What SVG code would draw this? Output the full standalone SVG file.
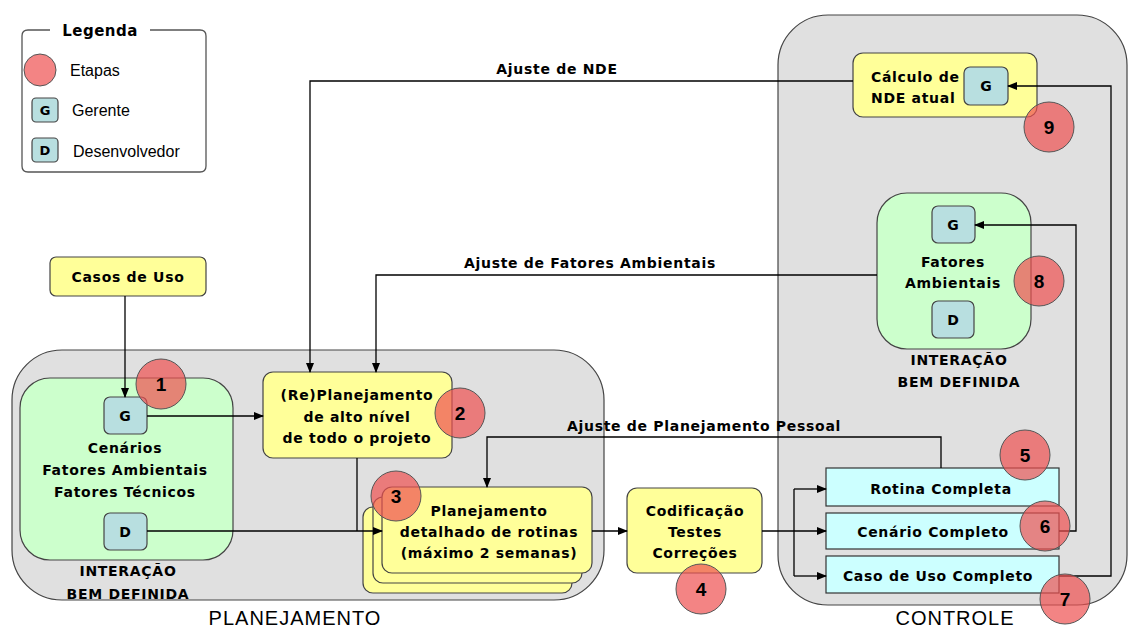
<svg xmlns="http://www.w3.org/2000/svg" width="1128" height="630" viewBox="0 0 1128 630">
<defs>
<marker id="ah" markerWidth="10" markerHeight="8" refX="9" refY="4" orient="auto" markerUnits="userSpaceOnUse">
<path d="M0,0 L10,4 L0,8 Z" fill="#000"/>
</marker>
<style>
.region{fill:#e0e0e0;stroke:#444;stroke-width:1.2}
.green{fill:#ccffcc;stroke:#444;stroke-width:1.2}
.yellow{fill:#ffff99;stroke:#444;stroke-width:1.2}
.cyan{fill:#ccffff;stroke:#333;stroke-width:1.2}
.role{fill:#b8dfe0;stroke:#444;stroke-width:1.2}
.step{fill:#ee5050;fill-opacity:0.7;stroke:#555;stroke-width:1}
.t{font-family:"DejaVu Sans",sans-serif;font-weight:bold;font-size:14px;letter-spacing:0.7px;fill:#000;text-anchor:middle}
.rl{font-family:"DejaVu Sans",sans-serif;font-weight:bold;font-size:14px;fill:#000;text-anchor:middle}
.n{font-family:"Liberation Sans",sans-serif;font-weight:bold;font-size:19px;fill:#000;text-anchor:middle}
.lg{font-family:"Liberation Sans",sans-serif;font-size:16px;fill:#000}
.big{font-family:"Liberation Sans",sans-serif;font-size:20px;letter-spacing:1px;fill:#000;text-anchor:middle}
.c{fill:none;stroke:#000;stroke-width:1.3}
</style>
</defs>
<rect width="1128" height="630" fill="#fff"/>

<g id="legend">
<path d="M50,30 L28,30 Q22,30 22,36 L22,166 Q22,172 28,172 L200,172 Q206,172 206,166 L206,36 Q206,30 200,30 L150,30" fill="none" stroke="#555" stroke-width="1.3"/>
<text x="100" y="36" class="t" style="font-size:15px;letter-spacing:0.5px">Legenda</text>
<circle cx="40" cy="70" r="16" class="step"/>
<text x="70" y="76" class="lg">Etapas</text>
<rect x="32" y="98" width="26" height="24" rx="4" class="role"/>
<text x="45" y="115" class="rl" style="font-size:13px">G</text>
<text x="72" y="116" class="lg">Gerente</text>
<rect x="32" y="138" width="26" height="24" rx="4" class="role"/>
<text x="45" y="155" class="rl" style="font-size:13px">D</text>
<text x="73" y="157" class="lg">Desenvolvedor</text>
</g>

<g id="regiao-planejamento">
<rect x="12" y="350" width="592" height="250" rx="50" class="region"/>
<text x="295" y="625" class="big">PLANEJAMENTO</text>
</g>
<g id="regiao-controle">
<rect x="778" y="15" width="349" height="590" rx="50" class="region"/>
<text x="955" y="625" class="big">CONTROLE</text>
</g>

<g id="casos-de-uso">
<rect x="50" y="257" width="156" height="39" rx="6" class="yellow"/>
<text x="128" y="282" class="t">Casos de Uso</text>
</g>

<g id="interacao-planejamento">
<rect x="20" y="378" width="213" height="182" rx="30" class="green"/>
<rect x="104" y="397" width="43" height="37" rx="6" class="role"/>
<text x="125" y="421" class="rl">G</text>
<text x="125" y="453" class="t">Cenários</text>
<text x="125" y="475" class="t">Fatores Ambientais</text>
<text x="125" y="497" class="t">Fatores Técnicos</text>
<rect x="104" y="513" width="43" height="37" rx="6" class="role"/>
<text x="125" y="537" class="rl">D</text>
<text x="128" y="576" class="t">INTERAÇÃO</text>
<text x="128" y="599" class="t">BEM DEFINIDA</text>
</g>

<g id="replanejamento">
<rect x="263" y="372" width="189" height="86" rx="10" class="yellow"/>
<text x="357" y="400" class="t">(Re)Planejamento</text>
<text x="357" y="422" class="t">de alto nível</text>
<text x="357" y="443" class="t">de todo o projeto</text>
</g>

<g id="planejamento-detalhado">
<rect x="363" y="507" width="209" height="86" rx="10" class="yellow"/>
<rect x="373" y="497" width="209" height="86" rx="10" class="yellow"/>
<rect x="382" y="487" width="210" height="86" rx="10" class="yellow"/>
<text x="489" y="516" class="t">Planejamento</text>
<text x="489" y="537" class="t">detalhado de rotinas</text>
<text x="489" y="558" class="t">(máximo 2 semanas)</text>
</g>

<g id="codificacao">
<rect x="627" y="488" width="135" height="85" rx="10" class="yellow"/>
<text x="695" y="516" class="t">Codificação</text>
<text x="695" y="537" class="t">Testes</text>
<text x="695" y="558" class="t">Correções</text>
</g>

<g id="rotina-completa">
<rect x="826" y="468" width="233" height="38" class="cyan"/>
<text x="941" y="494" class="t">Rotina Completa</text>
</g>
<g id="cenario-completo">
<rect x="826" y="513" width="233" height="36" class="cyan"/>
<text x="933" y="537" class="t">Cenário Completo</text>
</g>
<g id="caso-de-uso-completo">
<rect x="826" y="556" width="233" height="37" class="cyan"/>
<text x="938" y="581" class="t">Caso de Uso Completo</text>
</g>

<g id="calculo-nde">
<rect x="853" y="53" width="184" height="64" rx="10" class="yellow"/>
<text x="871" y="82" class="t" style="text-anchor:start">Cálculo de</text>
<text x="871" y="103" class="t" style="text-anchor:start">NDE atual</text>
<rect x="964" y="67" width="44" height="38" rx="6" class="role"/>
<text x="986" y="91" class="rl">G</text>
</g>

<g id="interacao-controle">
<rect x="877" y="193" width="154" height="156" rx="30" class="green"/>
<rect x="932" y="206" width="43" height="37" rx="6" class="role"/>
<text x="953" y="230" class="rl">G</text>
<text x="953" y="267" class="t">Fatores</text>
<text x="953" y="288" class="t">Ambientais</text>
<rect x="932" y="301" width="42" height="37" rx="6" class="role"/>
<text x="953" y="325" class="rl">D</text>
<text x="959" y="365" class="t">INTERAÇÃO</text>
<text x="959" y="387" class="t">BEM DEFINIDA</text>
</g>

<g id="connectors">
<path class="c" d="M125,296 L125,397" marker-end="url(#ah)"/>
<path class="c" d="M147,416 L263,416" marker-end="url(#ah)"/>
<path class="c" d="M147,531 L382,531" marker-end="url(#ah)"/>
<path class="c" d="M357,458 L357,531"/>
<path class="c" d="M592,531 L627,531" marker-end="url(#ah)"/>
<path class="c" d="M762,531 L826,531" marker-end="url(#ah)"/>
<path class="c" d="M794,489 L794,576"/>
<path class="c" d="M794,489 L826,489" marker-end="url(#ah)"/>
<path class="c" d="M794,576 L826,576" marker-end="url(#ah)"/>
<path class="c" d="M941,468 L941,437 L487,437 L487,487" marker-end="url(#ah)"/>
<path class="c" d="M1059,531 L1076,531 L1076,225 L975,225" marker-end="url(#ah)"/>
<path class="c" d="M1059,576 L1111,576 L1111,86 L1008,86" marker-end="url(#ah)"/>
<path class="c" d="M853,81 L310,81 L310,372" marker-end="url(#ah)"/>
<path class="c" d="M877,275 L376,275 L376,372" marker-end="url(#ah)"/>
<text x="557" y="74" class="t">Ajuste de NDE</text>
<text x="590" y="268" class="t">Ajuste de Fatores Ambientais</text>
<text x="704" y="431" class="t">Ajuste de Planejamento Pessoal</text>
</g>

<g id="etapas">
<circle cx="161" cy="384" r="25" class="step"/><text x="161" y="391" class="n">1</text>
<circle cx="460" cy="413" r="25" class="step"/><text x="460" y="420" class="n">2</text>
<circle cx="396" cy="496" r="25" class="step"/><text x="396" y="503" class="n">3</text>
<circle cx="701" cy="589" r="25" class="step"/><text x="701" y="596" class="n">4</text>
<circle cx="1025" cy="455" r="25" class="step"/><text x="1025" y="462" class="n">5</text>
<circle cx="1045" cy="526" r="25" class="step"/><text x="1045" y="533" class="n">6</text>
<circle cx="1065" cy="599" r="25" class="step"/><text x="1065" y="606" class="n">7</text>
<circle cx="1039" cy="281" r="25" class="step"/><text x="1039" y="288" class="n">8</text>
<circle cx="1049" cy="127" r="25" class="step"/><text x="1049" y="134" class="n">9</text>
</g>
</svg>
